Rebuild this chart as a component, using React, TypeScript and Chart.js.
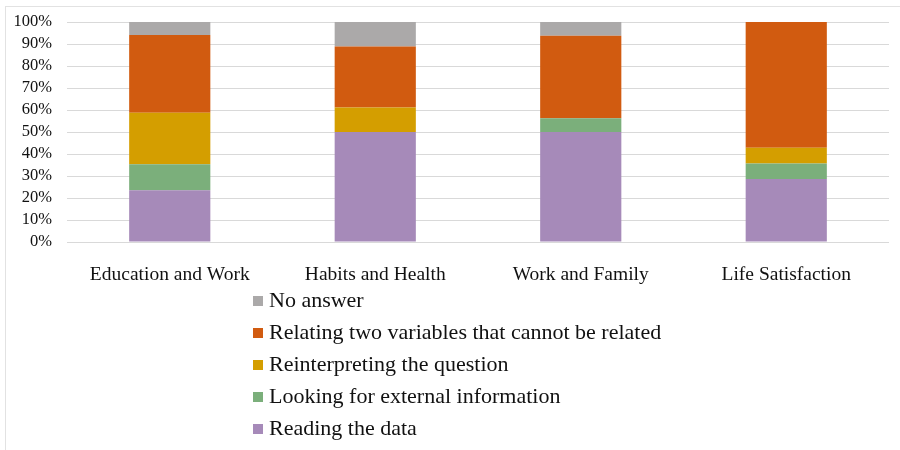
import React, { useEffect, useRef } from "react";
import { Chart, registerables } from "chart.js";

Chart.register(...registerables);

const categories = ["Education and Work", "Habits and Health", "Work and Family", "Life Satisfaction"];

// Share of answers per strategy (%), stacked bottom to top
const readingData = [23.5, 50.0, 50.0, 28.6];
const externalInfo = [11.8, 0, 6.2, 7.1];
const reinterpreting = [23.5, 11.1, 0, 7.1];
const relatingVars = [35.3, 27.8, 37.5, 57.2];
const noAnswer = [5.9, 11.1, 6.3, 0];

const yTicks = [0, 10, 20, 30, 40, 50, 60, 70, 80, 90, 100];

const seriesNames = [
  "Reading the data",
  "Looking for external information",
  "Reinterpreting the question",
  "Relating two variables that cannot be related",
  "No answer",
];
const seriesColors = ["#A68AB9", "#7BAF7B", "#D49E00", "#D15B10", "#ABA9A9"];

const FONT = "'Liberation Serif', 'Times New Roman', serif";

// Vertical legend listed top-down from the last series to the first
const verticalLegend = {
  id: "verticalLegend",
  afterDraw(chart: any) {
    const ctx = chart.ctx;
    const datasets = chart.data.datasets;
    const boxX = 253;
    const textX = 269;
    const firstY = 301;
    const step = 32;
    ctx.save();
    ctx.font = `22px ${FONT}`;
    ctx.textBaseline = "middle";
    ctx.textAlign = "left";
    for (let i = datasets.length - 1, row = 0; i >= 0; i--, row++) {
      const y = firstY + row * step;
      ctx.fillStyle = datasets[i].backgroundColor;
      ctx.fillRect(boxX, y - 5, 10, 10);
      ctx.fillStyle = "#111";
      ctx.fillText(datasets[i].label, textX, y);
    }
    ctx.restore();
  },
};

export default function App() {
  const canvasRef = useRef<HTMLCanvasElement | null>(null);

  useEffect(() => {
    if (!canvasRef.current) return;
    const series = [readingData, externalInfo, reinterpreting, relatingVars, noAnswer];
    const chart = new Chart(canvasRef.current, {
      type: "bar",
      data: {
        labels: categories,
        datasets: series.map((values, i) => ({
          label: seriesNames[i],
          data: values,
          backgroundColor: seriesColors[i],
          borderWidth: 0,
          barPercentage: 0.395,
          categoryPercentage: 1,
        })),
      },
      options: {
        responsive: false,
        animation: false,
        devicePixelRatio: 1,
        layout: { padding: { top: 22, left: 0, right: 11, bottom: 158 } },
        plugins: {
          legend: { display: false },
          tooltip: { enabled: false },
        },
        scales: {
          x: {
            stacked: true,
            grid: { display: false },
            border: { display: false },
            ticks: {
              color: "#111",
              font: { family: FONT, size: 19.5 },
              padding: 13,
              maxRotation: 0,
            },
            afterFit(scale: any) {
              scale.height = 50;
              scale.paddingLeft = 0;
              scale.paddingRight = 0;
            },
          },
          y: {
            stacked: true,
            min: 0,
            max: 100,
            grid: { color: "#d9d9d9", lineWidth: 1, drawTicks: false },
            border: { display: false },
            afterBuildTicks(scale: any) {
              scale.ticks = yTicks.map((v) => ({ value: v }));
            },
            ticks: {
              autoSkip: false,
              color: "#111",
              font: { family: FONT, size: 16.5 },
              padding: 15,
              callback: (v: any) => `${v}%`,
            },
            afterFit(scale: any) {
              scale.width = 67;
              scale.paddingTop = 0;
              scale.paddingBottom = 0;
            },
          },
        },
      },
      plugins: [verticalLegend],
    });
    return () => chart.destroy();
  }, []);

  return (
    <div style={{ position: "fixed", left: 0, top: 0, width: 900, height: 450, background: "#fff" }}>
      <div
        style={{
          position: "absolute",
          left: 5,
          top: 6,
          right: 0,
          bottom: 0,
          borderLeft: "1px solid #e2e2e2",
          borderTop: "1px solid #e2e2e2",
        }}
      />
      <canvas ref={canvasRef} width={900} height={450} style={{ position: "absolute", left: 0, top: 0 }} />
    </div>
  );
}
